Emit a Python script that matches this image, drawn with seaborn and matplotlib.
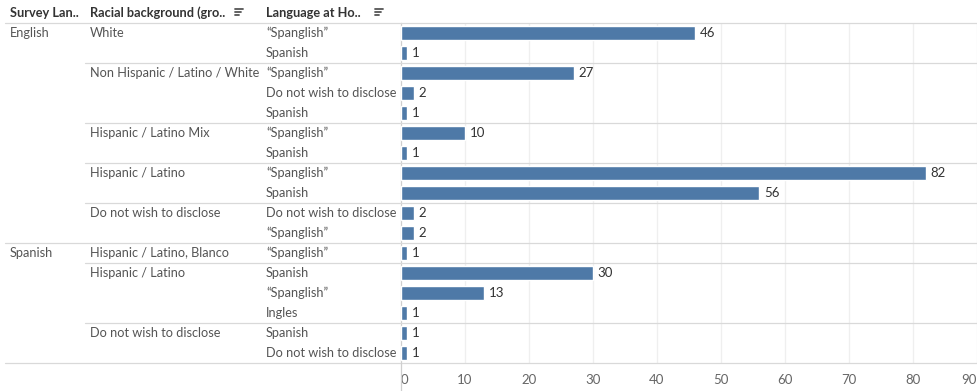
import matplotlib
matplotlib.use("Agg")
import matplotlib.pyplot as plt
import matplotlib.transforms as mtransforms
from matplotlib.lines import Line2D
import seaborn as sns
import pandas as pd

# ---- data ----
survey_lang = ["English"] * 11 + ["Spanish"] * 6
racial = (["White"] * 2 + ["Non Hispanic / Latino / White"] * 3 +
          ["Hispanic / Latino Mix"] * 2 + ["Hispanic / Latino"] * 2 +
          ["Do not wish to disclose"] * 2 +
          ["Hispanic / Latino, Blanco"] * 1 + ["Hispanic / Latino"] * 3 +
          ["Do not wish to disclose"] * 2)
home_lang = ["\u201cSpanglish\u201d", "Spanish",
             "\u201cSpanglish\u201d", "Do not wish to disclose", "Spanish",
             "\u201cSpanglish\u201d", "Spanish",
             "\u201cSpanglish\u201d", "Spanish",
             "Do not wish to disclose", "\u201cSpanglish\u201d",
             "\u201cSpanglish\u201d",
             "Spanish", "\u201cSpanglish\u201d", "Ingles",
             "Spanish", "Do not wish to disclose"]
counts = [46, 1, 27, 2, 1, 10, 1, 82, 56, 2, 2, 1, 30, 13, 1, 1, 1]
x_ticks = [0, 10, 20, 30, 40, 50, 60, 70, 80, 90]
headers = ["Survey Lan..", "Racial background (gro..", "Language at Ho.."]

W, H = 977, 391
BAR = "#4e79a7"
SEP = "#d9d9d9"
GRID = "#efefef"
TXT = "#555555"
FS = 9.2

sns.set_theme(style="white")
plt.rcParams["font.family"] = ["Lato", "DejaVu Sans"]

df = pd.DataFrame({"row": [str(i) for i in range(len(counts))], "count": counts})

fig = plt.figure(figsize=(W / 100, H / 100), dpi=100)
top_px, bot_px, left_px = 23, 363, 401
ax = fig.add_axes([left_px / W, 1 - bot_px / H, (W - left_px) / W, (bot_px - top_px) / H])
sns.barplot(data=df, x="count", y="row", orient="h", color=BAR, width=0.7,
            saturation=1, ax=ax, zorder=3)
ax.set_xlim(0, 90)
ax.set_ylim(len(counts) - 0.5, -0.5)
ax.set_xlabel("")
ax.set_ylabel("")
ax.set_yticks([])
ax.set_xticks(x_ticks)
ax.set_xticklabels([str(t) for t in x_ticks], fontsize=FS + 0.3, color="#666666")
ax.tick_params(axis="x", length=0, pad=8)
labs = ax.get_xticklabels()
labs[0].set_ha("left")
labs[-1].set_ha("right")
for t in x_ticks[1:]:
    ax.axvline(t, color=GRID, lw=0.9, zorder=0)
for s in ["top", "right", "bottom"]:
    ax.spines[s].set_visible(False)
ax.spines["left"].set_color("#cfcfcf")
ax.spines["left"].set_linewidth(0.9)

# value labels
for i, v in enumerate(counts):
    ax.text(v + 0.75, i, str(v), va="center", ha="left", fontsize=FS + 0.3, color="#333333")

bt = mtransforms.blended_transform_factory(fig.transFigure, ax.transData)

# row header text
for i in range(len(counts)):
    ax.text(266 / W, i, home_lang[i], transform=bt, va="center", ha="left",
            fontsize=FS, color=TXT, clip_on=False)
    if i == 0 or racial[i] != racial[i - 1] or survey_lang[i] != survey_lang[i - 1]:
        ax.text(90 / W, i, racial[i], transform=bt, va="center", ha="left",
                fontsize=FS, color=TXT, clip_on=False)
    if i == 0 or survey_lang[i] != survey_lang[i - 1]:
        ax.text(10 / W, i, survey_lang[i], transform=bt, va="center", ha="left",
                fontsize=FS, color=TXT, clip_on=False)

# separators between groups
for i in range(1, len(counts)):
    if survey_lang[i] != survey_lang[i - 1]:
        x0 = 5
    elif racial[i] != racial[i - 1]:
        x0 = 85
    else:
        continue
    fig.add_artist(Line2D([x0 / W, 1], [i - 0.5, i - 0.5], transform=bt,
                          color=SEP, lw=0.9))

for ypx in (top_px, bot_px):
    fig.add_artist(Line2D([5 / W, 1], [1 - ypx / H, 1 - ypx / H], transform=fig.transFigure,
                          color=SEP, lw=0.9))
fig.add_artist(Line2D([left_px / W, left_px / W], [0, 1 - bot_px / H], transform=fig.transFigure,
                      color="#cfcfcf", lw=0.9))

# column headers
hy = 1 - 13 / H
for x, h in zip([10, 90, 266], headers):
    fig.text(x / W, hy, h, ha="left", va="center", fontsize=FS, fontweight="bold", color="#333333")


def sort_icon(xpx):
    for k, ln in enumerate([8, 6, 4]):
        y = 1 - (9 + k * 3) / H
        fig.add_artist(Line2D([xpx / W, (xpx + ln) / W], [y, y], transform=fig.transFigure,
                              color="#555555", lw=1.3))


sort_icon(235)
sort_icon(375)

fig.savefig("out.png", dpi=100)
